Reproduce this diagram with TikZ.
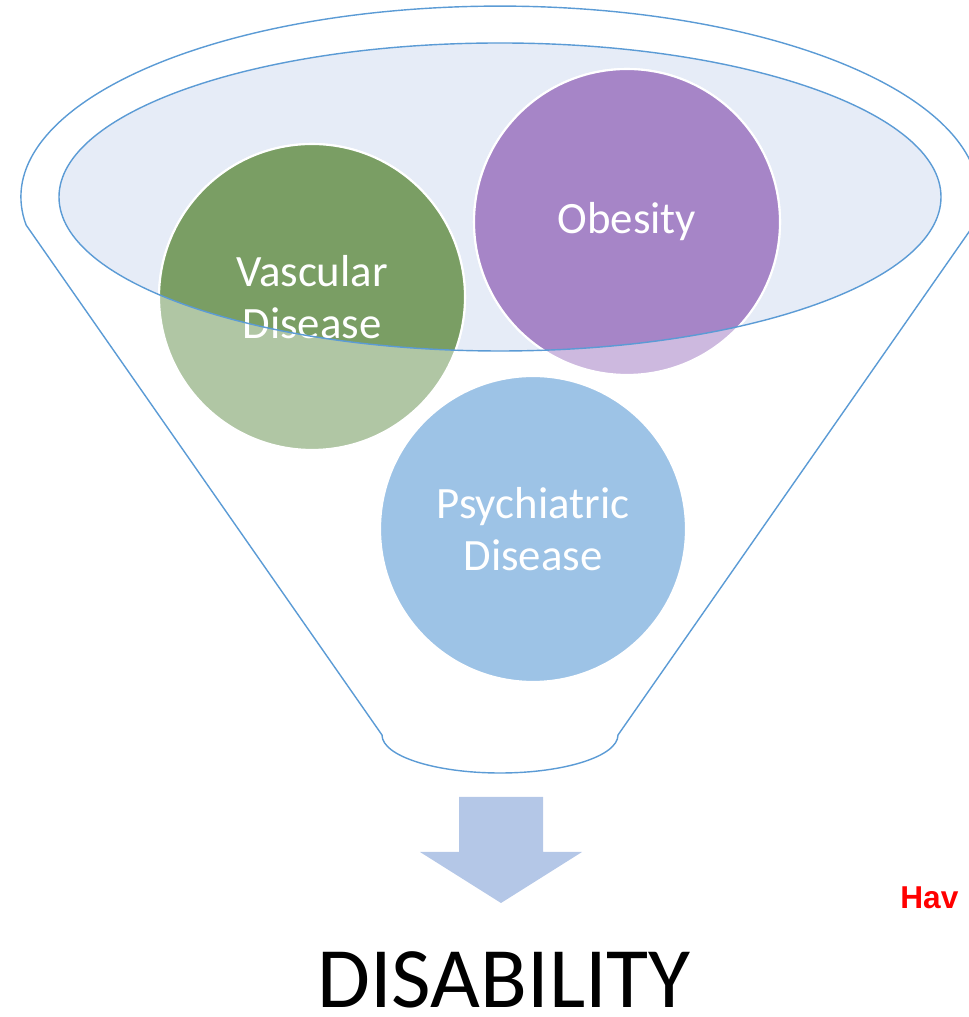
\documentclass[tikz,border=0pt]{standalone}
\usepackage{fontspec}
\setmainfont{Carlito}
\newfontfamily\notefont{Liberation Sans}
\definecolor{funnelline}{HTML}{5B9BD5}
\definecolor{funnelfill}{HTML}{E6ECF7}
\definecolor{vascdark}{HTML}{7A9E64}
\definecolor{vasclight}{HTML}{B0C6A4}
\definecolor{obesdark}{HTML}{A685C7}
\definecolor{obeslight}{HTML}{CDB9DF}
\definecolor{psychblue}{HTML}{9DC3E6}
\definecolor{arrowblue}{HTML}{B4C7E7}
\begin{document}
\begin{tikzpicture}[x=0.02cm, y=0.02cm]
            \tikzstyle{bubble}=[circle, draw=white, line width=1.2pt, minimum size=6.12cm, inner sep=0pt]
            \tikzstyle{bubbletext}=[text=white, align=center, font=\fontsize{25.5}{29.5}\selectfont]
            \tikzstyle{rim}=[funnelline, line width=0.8pt]

            \useasboundingbox (0,0) rectangle (969,1017);

            % funnel body
            \draw[rim] (26.1,792) arc[start angle=188.4, end angle=-8.4, x radius=479, y radius=191]
                -- (618,282) arc[start angle=0, end angle=-180, x radius=118, y radius=38] -- cycle;
            \fill[funnelfill] (500,820) ellipse[x radius=441, y radius=154];

            \node[bubble, fill=vasclight] (vasc) at (312,720) {};
            \node[bubble, fill=obeslight] (obes) at (627,795) {};
            \node[bubble, fill=psychblue] (psych) at (533,488) {};

            % darker where the bubbles sit inside the mouth
            \begin{scope}
                \clip (500,820) ellipse[x radius=441, y radius=154];
                \filldraw[fill=vascdark, draw=white, line width=1.2pt] (vasc.center) circle[radius=3.06cm];
                \filldraw[fill=obesdark, draw=white, line width=1.2pt] (obes.center) circle[radius=3.06cm];
            \end{scope}

            \node[bubbletext] at (vasc) {Vascular\\Disease};
            \node[bubbletext] at (obes) {Obesity};
            \node[bubbletext] at (psych) {Psychiatric\\Disease};

            \draw[rim] (500,820) ellipse[x radius=441, y radius=154];

            \fill[arrowblue] (459,220) -- (543,220) -- (543,165) -- (582,165) -- (501,114)
                -- (420,165) -- (459,165) -- cycle;

            \node[anchor=base, inner sep=0pt, font=\fontsize{49}{58}\selectfont] (result) at (504,10) {DISABILITY};
            \node[anchor=base west, inner sep=0pt, text=red, font=\notefont\bfseries\fontsize{18}{21}\selectfont] (note) at (900,108) {Hav};
\end{tikzpicture}
\end{document}
